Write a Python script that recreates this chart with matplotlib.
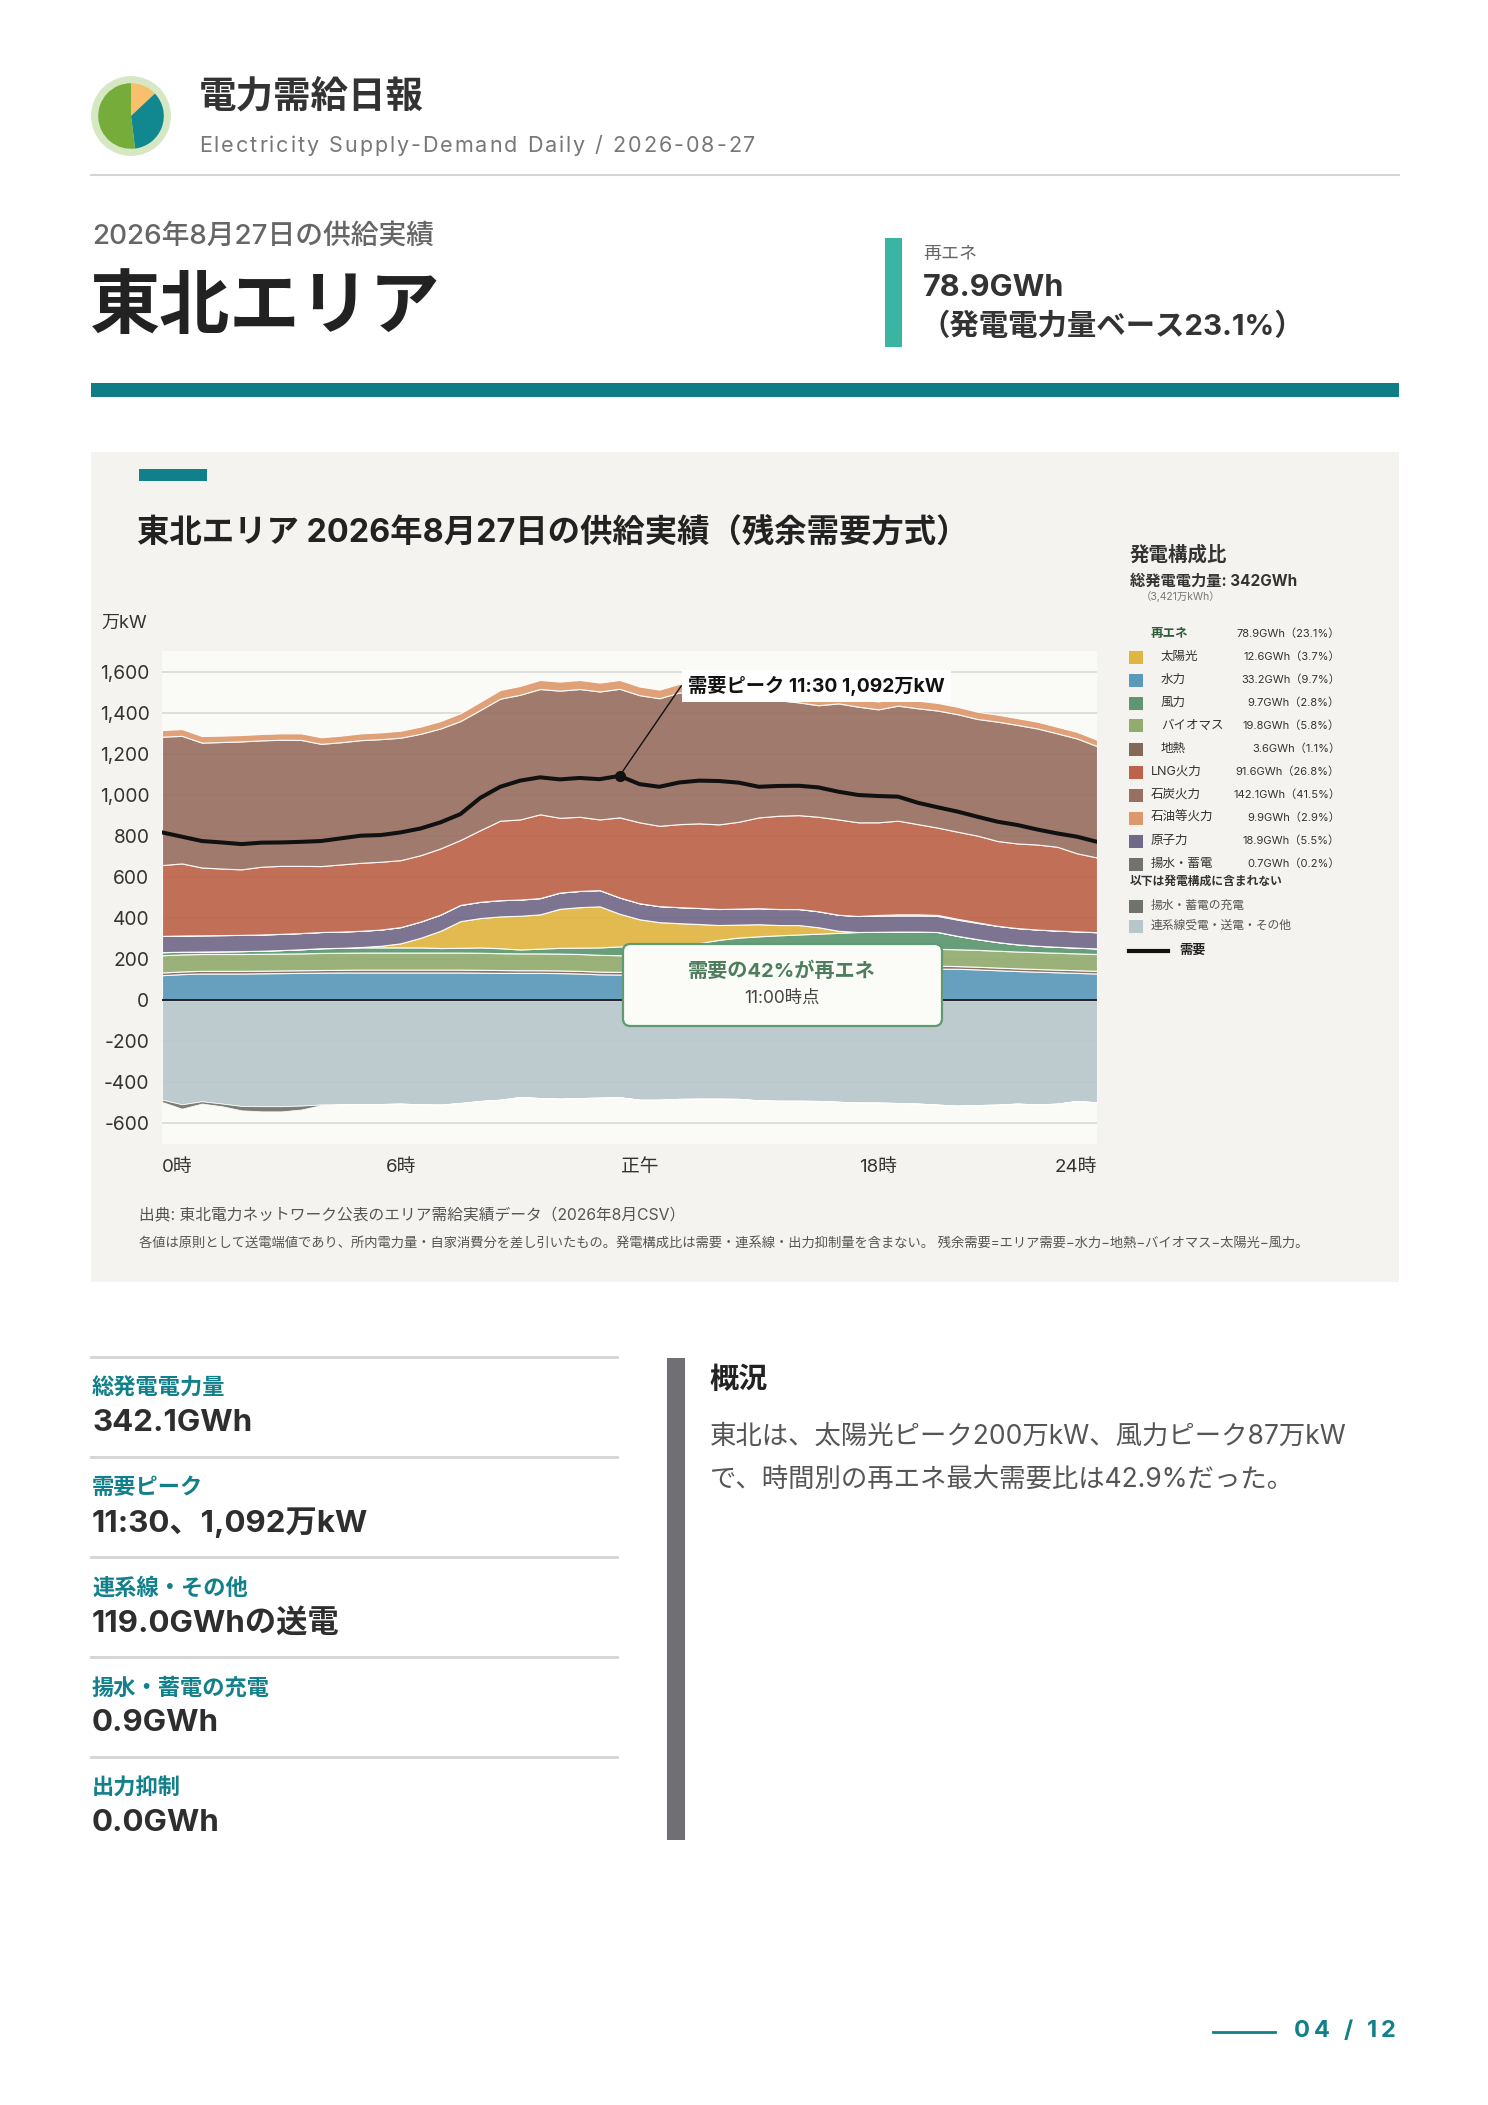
import matplotlib
matplotlib.use('Agg')
import matplotlib.pyplot as plt
from matplotlib.patches import Rectangle, FancyBboxPatch
from matplotlib.lines import Line2D
import numpy as np

plt.rcParams['font.family'] = ['Inter', 'Noto Sans CJK JP', 'DejaVu Sans']

W, H = 1488, 2105

# ---- 30分値 (万kW), 0:00 - 23:30 ----
hydro = [122, 127, 130, 130, 130, 131, 132, 133, 134, 135, 135, 135, 135, 135, 135, 135,
         134, 133, 133, 133, 132, 130, 126, 125, 125, 126, 128, 130, 132, 134, 136, 138,
         140, 143, 146, 149, 151, 153, 154, 154, 153, 150, 146, 142, 139, 136, 133, 130]
geo = [13, 13, 13, 13, 13, 13, 13, 13, 13, 13, 14, 14, 14, 14, 14, 14,
       14, 14, 13, 13, 13, 13, 13, 13, 13, 13, 13, 13, 13, 13, 13, 13,
       14, 14, 14, 14, 14, 14, 14, 14, 13, 13, 13, 13, 13, 13, 13, 13]
bio = [84, 83, 82, 82, 82, 82, 82, 82, 83, 83, 83, 83, 83, 83, 83, 83,
       83, 82, 82, 82, 82, 82, 82, 81, 81, 81, 81, 81, 81, 82, 82, 82,
       82, 82, 82, 82, 82, 82, 82, 82, 82, 82, 82, 82, 82, 82, 82, 82]
wind = [15, 13, 12, 13, 14, 15, 17, 20, 23, 24, 25, 25, 25, 25, 22, 23,
        26, 24, 19, 23, 28, 31, 36, 43, 45, 47, 49, 54, 68, 76, 80, 83,
        84, 85, 86, 87, 86, 85, 84, 82, 65, 52, 42, 35, 31, 29, 28, 27]
solar = [0, 0, 0, 0, 0, 0, 0, 0, 0, 0, 2, 8, 20, 47, 84, 130,
         143, 155, 164, 167, 190, 197, 200, 159, 130, 113, 104, 93, 72, 63, 59, 50,
         46, 31, 10, 0, 0, 0, 0, 0, 0, 0, 0, 0, 0, 0, 0, 0]
nuclear = [79, 79, 79, 79, 79, 79, 79, 79, 79, 79, 79, 79, 79, 79, 79, 79,
           79, 79, 79, 79, 79, 79, 79, 79, 78, 78, 78, 78, 78, 78, 78, 78,
           78, 78, 78, 78, 78, 78, 78, 78, 79, 79, 79, 79, 79, 79, 79, 79]
pumped_gen = [0, 0, 0, 0, 0, 0, 0, 0, 0, 0, 0, 0, 0, 0, 0, 0,
              0, 0, 0, 0, 0, 0, 0, 0, 0, 0, 0, 0, 0, 0, 0, 0,
              0, 0, 0, 0, 4, 6, 6, 5, 4, 3, 0, 0, 0, 0, 0, 0]
lng = [345, 351, 330, 324, 319, 330, 331, 327, 321, 327, 331, 330, 326, 323, 322, 316,
       349, 387, 390, 408, 364, 361, 344, 390, 394, 391, 404, 412, 412, 423, 442, 454,
       457, 460, 464, 456, 451, 456, 439, 425, 424, 422, 413, 412, 414, 408, 380, 364]
coal = [625, 621, 608, 616, 623, 615, 614, 613, 595, 595, 597, 597, 596, 591, 584, 579,
        585, 594, 607, 610, 619, 622, 623, 626, 619, 621, 641, 637, 633, 610, 580, 562,
        549, 543, 565, 563, 550, 560, 564, 570, 572, 568, 581, 577, 565, 552, 559, 542]
oil = [32, 33, 32, 31, 31, 31, 31, 32, 32, 32, 33, 33, 34, 35, 36, 38,
       40, 42, 43, 44, 44, 44, 43, 43, 42, 42, 42, 42, 41, 41, 40, 40,
       40, 39, 39, 38, 38, 38, 37, 37, 36, 35, 34, 33, 33, 32, 32, 31]
# 連系線（送電はマイナス）と揚水・蓄電の充電
interconnect = [-484, -507, -492, -503, -515, -516, -516, -513, -508, -507, -505, -505, -503, -507, -508, -500,
                -490, -484, -471, -476, -479, -476, -474, -472, -484, -484, -480, -479, -479, -480, -487, -489,
                -489, -490, -494, -498, -498, -500, -503, -508, -513, -510, -508, -503, -507, -503, -490, -497]
charge = [-11, -21, -11, -13, -21, -25, -25, -19, -3, 0, 0, 0, 0, 0, 0, 0,
          0, 0, 0, 0, 0, 0, 0, 0, 0, 0, 0, 0, 0, 0, 0, 0,
          0, 0, 0, 0, 0, 0, 0, 0, 0, 0, 0, 0, 0, 0, 0, 0]
demand = [817, 796, 775, 768, 760, 767, 768, 771, 775, 788, 801, 804, 817, 836, 866, 906,
          985, 1039, 1069, 1085, 1075, 1082, 1076, 1092, 1052, 1039, 1060, 1069, 1067, 1059, 1039, 1043,
          1044, 1036, 1015, 999, 994, 991, 961, 939, 918, 893, 869, 853, 831, 812, 796, 771]

xtick_pos = [0, 12, 24, 36, 47]
xtick_labels = ['0時', '6時', '正午', '18時', '24時']

# 凡例（発電構成比）
legend_rows = [
    ('太陽光', '12.6GWh（3.7%）', '#e0b541', True),
    ('水力', '33.2GWh（9.7%）', '#5b99bb', True),
    ('風力', '9.7GWh（2.8%）', '#5d966f', True),
    ('バイオマス', '19.8GWh（5.8%）', '#92ac6f', True),
    ('地熱', '3.6GWh（1.1%）', '#846958', True),
    ('LNG火力', '91.6GWh（26.8%）', '#bd6349', False),
    ('石炭火力', '142.1GWh（41.5%）', '#987061', False),
    ('石油等火力', '9.9GWh（2.9%）', '#de986d', False),
    ('原子力', '18.9GWh（5.5%）', '#716988', False),
    ('揚水・蓄電', '0.7GWh（0.2%）', '#6f736b', False),
]
kpi_labels = ['総発電電力量', '需要ピーク', '連系線・その他', '揚水・蓄電の充電', '出力抑制']
kpi_values = ['342.1GWh', '11:30、1,092万kW', '119.0GWhの送電', '0.9GWh', '0.0GWh']
icon_share = [13, 35, 52]

TEAL = '#12808a'
c_hydro, c_solar, c_wind, c_bio, c_geo = '#5b99bb', '#e0b541', '#5d966f', '#92ac6f', '#846958'
c_lng, c_coal, c_oil, c_nuc, c_pump = '#bd6349', '#987061', '#de986d', '#716988', '#6f736b'
c_inter = '#b8c7cc'


def fx(x):
    return x / W


def fy(y):
    return 1 - y / H


def ftext(x, y, s, **kw):
    kw.setdefault('va', 'center')
    kw.setdefault('ha', 'left')
    return fig.text(fx(x), fy(y), s, **kw)


def spaced_text(x, y, s, width, **kw):
    # letter-spaced text stretched to a given pixel width
    r = fig.canvas.get_renderer()
    probe = ftext(x, y, s, **kw)
    natural = probe.get_window_extent(r).width
    probe.remove()
    gap = (width - natural) / (len(s) - 1)
    cx = x
    for ch in s:
        t = ftext(cx, y, ch, **kw)
        if ch == ' ':
            w = kw.get('fontsize', 12) * 0.28 * 100 / 72
        else:
            w = t.get_window_extent(r).width
        cx += w + gap


def frect(x0, y0, x1, y1, color, **kw):
    fig.add_artist(Rectangle((fx(x0), fy(y1)), (x1 - x0) / W, (y1 - y0) / H,
                             transform=fig.transFigure, facecolor=color,
                             edgecolor='none', **kw))


def fline(x0, y0, x1, y1, color, lw):
    fig.add_artist(Line2D([fx(x0), fx(x1)], [fy(y0), fy(y1)], color=color, lw=lw,
                          transform=fig.transFigure))


fig = plt.figure(figsize=(W / 100, H / 100), dpi=100)
fig.patch.set_facecolor('white')

# ---- header ----
iax = fig.add_axes([fx(131 - 40), fy(116 + 40), 80 / W, 80 / H])
iax.set_aspect('equal')
iax.axis('off')
iax.add_patch(plt.Circle((0, 0), 0.98, color='#d6e7c4'))
iax.pie(icon_share, colors=['#f8c06c', '#118790', '#76ad3a'], startangle=90,
        counterclock=False, radius=0.82, wedgeprops=dict(linewidth=0))
iax.set_xlim(-1, 1)
iax.set_ylim(-1, 1)

ftext(199, 97, '電力需給日報', fontsize=27, fontweight='bold', color='#333333')
spaced_text(199, 146, 'Electricity Supply-Demand Daily / 2026-08-27', 556,
            fontsize=15.5, color='#777777')
fline(91, 175, 1399, 175, '#d4d4d4', 1.5)

ftext(92, 237, '2026年8月27日の供給実績', fontsize=20, fontweight='medium', color='#666666')
ftext(90, 309, '東北エリア', fontsize=50.5, fontweight='bold', color='#222222')

frect(885, 238, 902, 347, '#3ab5a4')
ftext(923, 254, '再エネ', fontsize=13, color='#666666')
ftext(923, 288, '78.9GWh', fontsize=22, fontweight='bold', color='#333333')
ftext(921, 327, '（発電電力量ベース23.1%）', fontsize=21.2, fontweight='bold', color='#333333')

frect(91, 383, 1399, 397, '#0f7c86')

# ---- chart panel ----
frect(91, 452, 1399, 1282, '#f4f3ef', zorder=-5)
frect(139, 469, 207, 481, TEAL)
ftext(137, 533, '東北エリア 2026年8月27日の供給実績（残余需要方式）', fontsize=23.3, fontweight='bold',
      color='#222222')
ftext(101, 623, '万kW', fontsize=13, color='#333333')

ax = fig.add_axes([fx(162), fy(1144), 935 / W, 493 / H])
ax.set_facecolor('#fafaf6')
x = np.arange(len(demand))
for v in range(-600, 1700, 200):
    ax.axhline(v, color='#dcdcd8', lw=1.3, zorder=0)

ax.stackplot(x, hydro, geo, bio, wind, solar, nuclear, pumped_gen, lng, coal, oil,
             colors=[c_hydro, c_geo, c_bio, c_wind, c_solar, c_nuc, c_pump, c_lng, c_coal, c_oil],
             alpha=0.92, edgecolor='white', linewidth=0.8, zorder=2)
ax.stackplot(x, interconnect, charge, colors=[c_inter, c_pump],
             alpha=0.92, edgecolor='white', linewidth=0.6, zorder=2)
ax.axhline(0, color='#222222', lw=1.4, zorder=4)
ax.plot(x, demand, color='#111111', lw=2.9, zorder=5, solid_capstyle='round')

# 需要ピーク
ipk = int(np.argmax(demand))
ax.plot(ipk, demand[ipk], 'o', color='#111111', ms=7, zorder=6)
ax.plot([ipk, 26.1], [demand[ipk], 1530], color='#111111', lw=1, zorder=6)
ax.text(26.45, 1530, '需要ピーク 11:30 1,092万kW', fontsize=13.9, fontweight='bold', color='#111111',
        va='center', ha='left', zorder=7,
        bbox=dict(boxstyle='square,pad=0.3', fc='white', ec='none'))

ax.set_xlim(0, 47)
ax.set_ylim(-700, 1700)
ax.set_yticks(range(-600, 1700, 200))
ax.set_yticklabels([f'{v:,}' for v in range(-600, 1700, 200)])
ax.set_xticks(xtick_pos)
ax.set_xticklabels(xtick_labels)
ax.get_xticklabels()[0].set_ha('left')
ax.get_xticklabels()[-1].set_ha('right')
ax.tick_params(axis='y', length=0, pad=9, labelsize=13.8, labelcolor='#333333')
ax.tick_params(axis='x', length=0, pad=11, labelsize=13.5, labelcolor='#333333')
for s in ax.spines.values():
    s.set_visible(False)

# 再エネ比率の吹き出し
fig.add_artist(FancyBboxPatch((fx(623), fy(1026)), 319 / W, 82 / H,
                              boxstyle='round,pad=0,rounding_size=0.005',
                              mutation_aspect=W / H, transform=fig.transFigure,
                              facecolor='#fbfcf8', edgecolor='#5e9a72', lw=1.6, zorder=8))
ftext(782, 971, '需要の42%が再エネ', fontsize=14.5, fontweight='bold', color='#4e7d5e',
      ha='center', zorder=9)
ftext(782, 998, '11:00時点', fontsize=12.5, color='#444444', ha='center', zorder=9)

# ---- 凡例 ----
ftext(1130, 555, '発電構成比', fontsize=14, fontweight='bold', color='#333333')
ftext(1130, 581, '総発電電力量: 342GWh', fontsize=11, fontweight='bold', color='#333333')
ftext(1141, 597, '（3,421万kWh）', fontsize=7.5, color='#777777')
ftext(1151, 634, '再エネ', fontsize=9, fontweight='bold', color='#2f5d3a')
ftext(1340, 634, '78.9GWh（23.1%）', fontsize=8, color='#333333', ha='right')
for k, (lab, val, col, sub) in enumerate(legend_rows):
    yy = 657 + 23 * k
    frect(1129, yy - 6.5, 1143, yy + 6.5, col)
    ftext(1161 if sub else 1151, yy, lab, fontsize=9, color='#333333')
    ftext(1340, yy, val, fontsize=8, color='#333333', ha='right')
ftext(1130, 882, '以下は発電構成に含まれない', fontsize=8.5, fontweight='bold', color='#333333')
frect(1129, 900, 1143, 913, c_pump)
ftext(1151, 906, '揚水・蓄電の充電', fontsize=8.5, color='#555555')
frect(1129, 920, 1143, 933, c_inter)
ftext(1151, 926, '連系線受電・送電・その他', fontsize=8.5, color='#555555')
fline(1129, 951, 1168, 951, '#111111', 3)
ftext(1179, 951, '需要', fontsize=9.5, fontweight='bold', color='#222222')

# ---- 出典 ----
ftext(139, 1216, '出典: 東北電力ネットワーク公表のエリア需給実績データ（2026年8月CSV）',
      fontsize=11.3, color='#555555')
ftext(139, 1243, '各値は原則として送電端値であり、所内電力量・自家消費分を差し引いたもの。'
      '発電構成比は需要・連系線・出力抑制量を含まない。 残余需要=エリア需要−水力−地熱−バイオマス−太陽光−風力。',
      fontsize=9.55, color='#555555')

# ---- KPI ----
for k, (lab, val) in enumerate(zip(kpi_labels, kpi_values)):
    y0 = 1357 + 100 * k
    fline(91, y0, 617, y0, '#d4d4d4', 2)
    ftext(92, y0 + 31, lab, fontsize=16, fontweight='bold', color=TEAL)
    ftext(92, y0 + 66, val, fontsize=22.5, fontweight='bold', color='#2e2e2e')

frect(667, 1358, 685, 1840, '#707074')
ftext(710, 1380, '概況', fontsize=21, fontweight='bold', color='#222222')
ftext(710, 1437, '東北は、太陽光ピーク200万kW、風力ピーク87万kW', fontsize=19, color='#555555')
ftext(710, 1480, 'で、時間別の再エネ最大需要比は42.9%だった。', fontsize=19, color='#555555')

# ---- footer ----
fline(1213, 2032, 1275, 2032, TEAL, 2)
spaced_text(1294, 2031, '04 / 12', 100, fontsize=17, fontweight='bold', color=TEAL)

fig.savefig('out.png', dpi=100)
